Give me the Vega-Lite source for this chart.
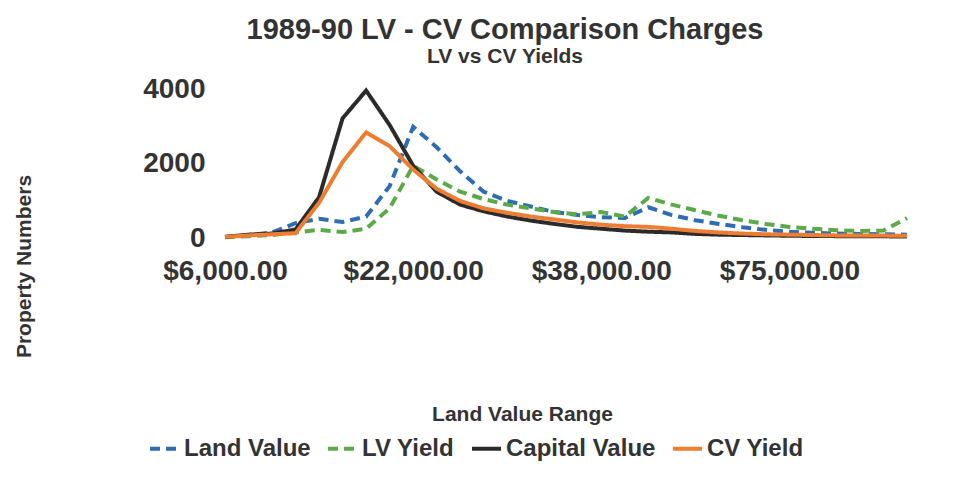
{
  "$schema": "https://vega.github.io/schema/vega-lite/v6.json",
  "autosize": "none",
  "width": 682,
  "height": 163,
  "padding": {"left": 225, "top": 75, "right": 52, "bottom": 250},
  "background": "#ffffff",
  "title": {
    "text": "1989-90 LV - CV Comparison Charges",
    "subtitle": "LV vs CV Yields",
    "anchor": "middle",
    "dx": -61,
    "font": "Liberation Sans",
    "fontSize": 29,
    "fontWeight": "bold",
    "color": "#333333",
    "subtitleFont": "Liberation Sans",
    "subtitleFontSize": 21,
    "subtitleFontWeight": "bold",
    "subtitleColor": "#333333",
    "subtitlePadding": 1,
    "offset": 8,
    "frame": "group"
  },
  "data": {
    "values": [
      {"range": "$6,000.00", "Land Value": 30, "LV Yield": 20, "Capital Value": 30, "CV Yield": 30},
      {"range": "$8,000.00", "Land Value": 80, "LV Yield": 50, "Capital Value": 90, "CV Yield": 70},
      {"range": "$10,000.00", "Land Value": 150, "LV Yield": 80, "Capital Value": 120, "CV Yield": 100},
      {"range": "$12,000.00", "Land Value": 400, "LV Yield": 150, "Capital Value": 230, "CV Yield": 130},
      {"range": "$14,000.00", "Land Value": 520, "LV Yield": 220, "Capital Value": 1100, "CV Yield": 950},
      {"range": "$16,000.00", "Land Value": 430, "LV Yield": 160, "Capital Value": 3230, "CV Yield": 2050},
      {"range": "$18,000.00", "Land Value": 580, "LV Yield": 250, "Capital Value": 3980, "CV Yield": 2850},
      {"range": "$20,000.00", "Land Value": 1400, "LV Yield": 800, "Capital Value": 3050, "CV Yield": 2480},
      {"range": "$22,000.00", "Land Value": 3000, "LV Yield": 1950, "Capital Value": 1950, "CV Yield": 1850},
      {"range": "$24,000.00", "Land Value": 2450, "LV Yield": 1580, "Capital Value": 1250, "CV Yield": 1330},
      {"range": "$26,000.00", "Land Value": 1800, "LV Yield": 1250, "Capital Value": 900, "CV Yield": 1000},
      {"range": "$28,000.00", "Land Value": 1250, "LV Yield": 1050, "Capital Value": 720, "CV Yield": 800},
      {"range": "$30,000.00", "Land Value": 1000, "LV Yield": 900, "Capital Value": 580, "CV Yield": 680},
      {"range": "$32,000.00", "Land Value": 850, "LV Yield": 800, "Capital Value": 470, "CV Yield": 580},
      {"range": "$34,000.00", "Land Value": 700, "LV Yield": 700, "Capital Value": 380, "CV Yield": 500},
      {"range": "$36,000.00", "Land Value": 620, "LV Yield": 640, "Capital Value": 300, "CV Yield": 420},
      {"range": "$38,000.00", "Land Value": 560, "LV Yield": 700, "Capital Value": 250, "CV Yield": 360},
      {"range": "$40,000.00", "Land Value": 540, "LV Yield": 580, "Capital Value": 200, "CV Yield": 320},
      {"range": "$42,000.00", "Land Value": 830, "LV Yield": 1080, "Capital Value": 170, "CV Yield": 300},
      {"range": "$44,000.00", "Land Value": 620, "LV Yield": 900, "Capital Value": 150, "CV Yield": 250},
      {"range": "$46,000.00", "Land Value": 480, "LV Yield": 750, "Capital Value": 110, "CV Yield": 190},
      {"range": "$48,000.00", "Land Value": 380, "LV Yield": 600, "Capital Value": 90, "CV Yield": 150},
      {"range": "$50,000.00", "Land Value": 290, "LV Yield": 480, "Capital Value": 80, "CV Yield": 120},
      {"range": "$60,000.00", "Land Value": 220, "LV Yield": 380, "Capital Value": 70, "CV Yield": 100},
      {"range": "$75,000.00", "Land Value": 170, "LV Yield": 300, "Capital Value": 60, "CV Yield": 90},
      {"range": "$100,000.00", "Land Value": 140, "LV Yield": 250, "Capital Value": 55, "CV Yield": 80},
      {"range": "$150,000.00", "Land Value": 120, "LV Yield": 210, "Capital Value": 50, "CV Yield": 70},
      {"range": "$200,000.00", "Land Value": 110, "LV Yield": 190, "Capital Value": 50, "CV Yield": 70},
      {"range": "$300,000.00", "Land Value": 100, "LV Yield": 200, "Capital Value": 45, "CV Yield": 65},
      {"range": "$500,000.00", "Land Value": 90, "LV Yield": 540, "Capital Value": 40, "CV Yield": 60}
    ]
  },
  "transform": [
    {"fold": ["Land Value", "LV Yield", "Capital Value", "CV Yield"], "as": ["series", "value"]}
  ],
  "mark": {"type": "line", "strokeWidth": 4, "strokeCap": "butt", "strokeJoin": "miter"},
  "encoding": {
    "x": {
      "field": "range",
      "type": "ordinal",
      "sort": null,
      "scale": {"type": "point", "padding": 0},
      "axis": {
        "values": ["$6,000.00", "$22,000.00", "$38,000.00", "$75,000.00"],
        "labelAngle": 0,
        "labelFont": "Liberation Sans",
        "labelFontSize": 28,
        "labelFontWeight": "bold",
        "labelColor": "#333333",
        "labelPadding": 19,
        "domain": false,
        "ticks": false,
        "grid": false,
        "title": "Land Value Range",
        "titleFont": "Liberation Sans",
        "titleFontSize": 21,
        "titleFontWeight": "bold",
        "titleColor": "#333333",
        "titleX": 297,
        "titleY": 165,
        "titleBaseline": "top",
        "titleAlign": "center"
      }
    },
    "y": {
      "field": "value",
      "type": "quantitative",
      "scale": {"domain": [0, 4400], "nice": false},
      "axis": {
        "values": [0, 2000, 4000],
        "format": "d",
        "labelFont": "Liberation Sans",
        "labelFontSize": 28,
        "labelFontWeight": "bold",
        "labelColor": "#333333",
        "labelPadding": 20,
        "domain": false,
        "ticks": false,
        "grid": false,
        "title": "Property Numbers",
        "titleFont": "Liberation Sans",
        "titleFontSize": 21,
        "titleFontWeight": "bold",
        "titleColor": "#333333",
        "titleX": -201,
        "titleY": 191,
        "titleAngle": -90,
        "titleAlign": "center",
        "titleBaseline": "middle"
      }
    },
    "color": {
      "field": "series",
      "type": "nominal",
      "scale": {
        "domain": ["Land Value", "LV Yield", "Capital Value", "CV Yield"],
        "range": ["#2e6db4", "#5aaa48", "#2b2b2b", "#ed7d31"]
      },
      "legend": {
        "title": null,
        "orient": "none",
        "legendX": -77,
        "legendY": 357,
        "direction": "horizontal",
        "symbolType": "stroke",
        "symbolSize": 841,
        "symbolStrokeWidth": 4,
        "labelFont": "Liberation Sans",
        "labelFontSize": 24,
        "labelFontWeight": "bold",
        "labelColor": "#333333",
        "labelOffset": 3,
        "columnPadding": 9,
        "labelLimit": 300
      }
    },
    "strokeDash": {
      "field": "series",
      "type": "nominal",
      "scale": {
        "domain": ["Land Value", "LV Yield", "Capital Value", "CV Yield"],
        "range": [[10, 6], [10, 6], [1, 0], [1, 0]]
      },
      "legend": {
        "title": null,
        "orient": "none",
        "legendX": -77,
        "legendY": 357,
        "direction": "horizontal",
        "symbolType": "stroke",
        "symbolSize": 841,
        "symbolStrokeWidth": 4,
        "labelFont": "Liberation Sans",
        "labelFontSize": 24,
        "labelFontWeight": "bold",
        "labelColor": "#333333",
        "labelOffset": 3,
        "columnPadding": 9,
        "labelLimit": 300
      }
    }
  },
  "config": {
    "view": {"stroke": null}
  }
}
